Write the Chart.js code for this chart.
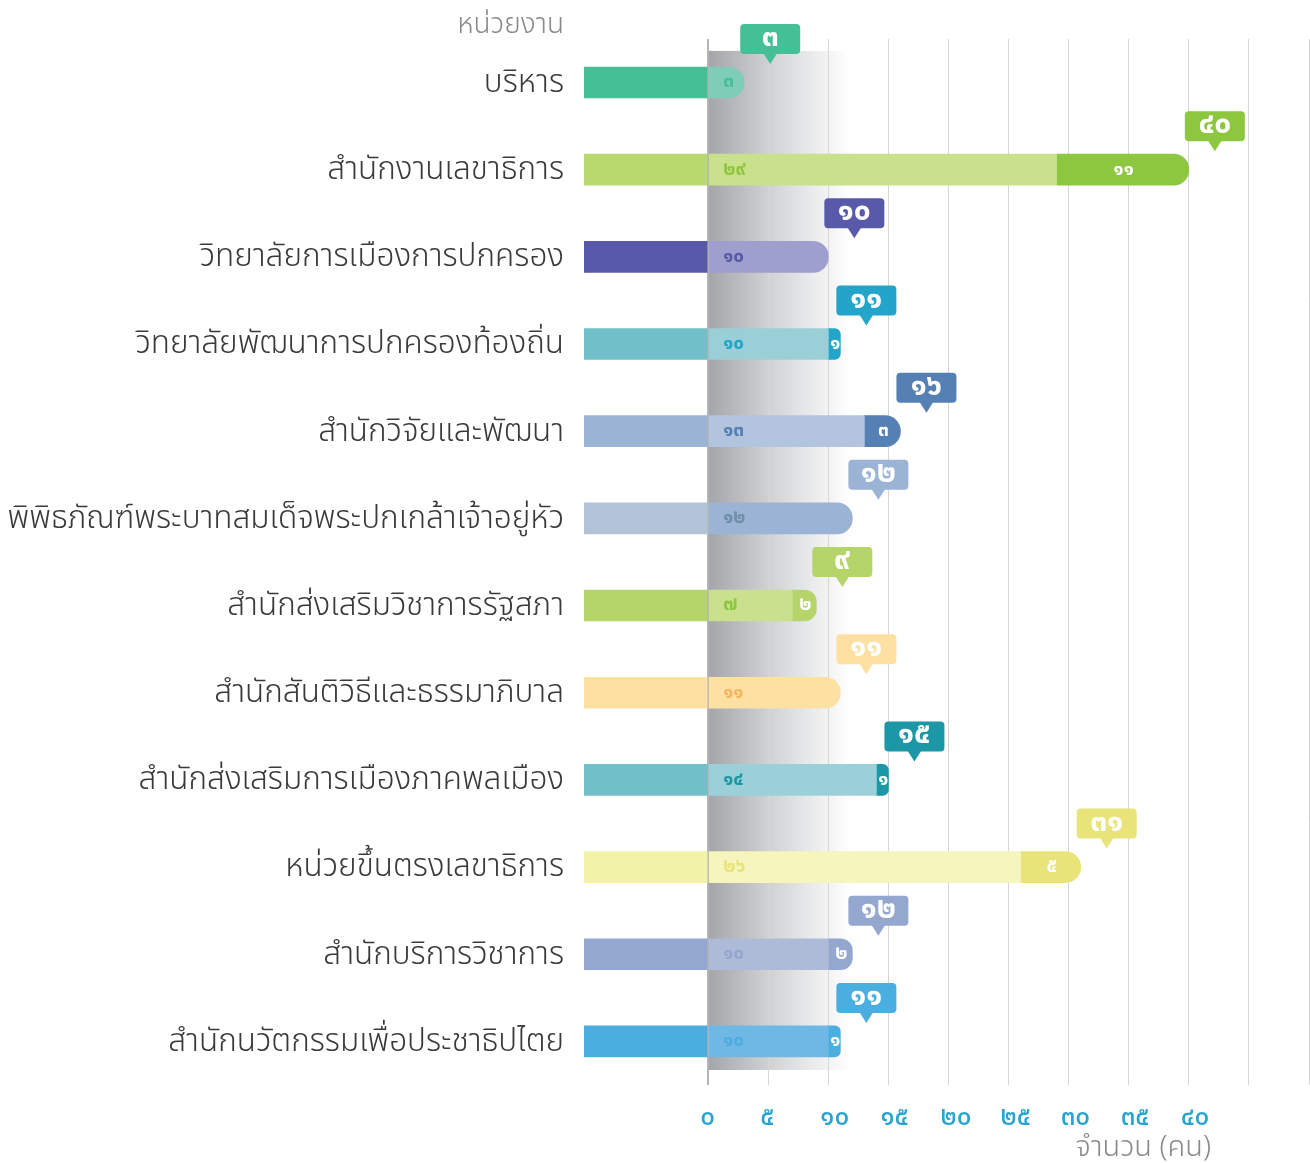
<!DOCTYPE html>
<html>
<head>
<meta charset="utf-8">
<script src="https://cdn.jsdelivr.net/npm/chart.js@4.4.1/dist/chart.umd.min.js"></script>
<style>
  body { margin: 0; background: #fff; }
  #wrap { position: relative; width: 1310px; height: 1163px; }
  .note { position: absolute; font-family: "Noto Sans Thai", "Noto Sans", sans-serif; font-weight: 300; color: #8a8a8a; white-space: nowrap; }
  #head { right: 746px; top: 3px; font-size: 28px; }
  #unit { right: 99px; top: 1125px; font-size: 29px; }
</style>
</head>
<body>
<div id="wrap">
  <canvas id="chart" width="1310" height="1163"></canvas>
  <div class="note" id="head">หน่วยงาน</div>
  <div class="note" id="unit">จำนวน (คน)</div>
</div>
<script>
// ---- data ----
const units = [
  'บริหาร',
  'สำนักงานเลขาธิการ',
  'วิทยาลัยการเมืองการปกครอง',
  'วิทยาลัยพัฒนาการปกครองท้องถิ่น',
  'สำนักวิจัยและพัฒนา',
  'พิพิธภัณฑ์พระบาทสมเด็จพระปกเกล้าเจ้าอยู่หัว',
  'สำนักส่งเสริมวิชาการรัฐสภา',
  'สำนักสันติวิธีและธรรมาภิบาล',
  'สำนักส่งเสริมการเมืองภาคพลเมือง',
  'หน่วยขึ้นตรงเลขาธิการ',
  'สำนักบริการวิชาการ',
  'สำนักนวัตกรรมเพื่อประชาธิปไตย'
];
const firstPart  = [3, 29, 10, 10, 13, 12, 7, 11, 14, 26, 10, 10];
const secondPart = [0, 11, 0, 1, 3, 0, 2, 0, 1, 5, 2, 1];
const tickMax = 40;   // last labelled tick
const axisMax = 50;

// ---- styles ----
const blockColors = ['#45bf96','#b8d96e','#5859a9','#70bfc9','#9bb3d4','#b3c3d7','#b5d56b','#ffe0a3','#70bfc9','#f3f3a7','#94a8cf','#4aaee0'];
const lightColors = ['#7fcdb8','#c9e08c','#9e9fcf','#9bcfd8','#b3c5de','#9bb3d4','#c9e08c','#ffe0a3','#9bd0d9','#f5f5bd','#adbbd9','#6fb7e4'];
const accentColors = ['#45bf96','#8dc63f','#5859a9','#23a5c9','#5480b4','#9bb3d4','#b5d56b','#ffe0a3','#1b97a6','#e8e47a','#94a8cf','#4aaee0'];
const innerText = ['#45bf96','#8dc63f','#5859a9','#23a5c9','#5480b4','#6d8fa8','#8dc63f','#f5b55f','#1b97a6','#e8e47a','#94a8cf','#4aaee0'];

const FONT = '"Noto Sans Thai", "Noto Sans", sans-serif';
const BLOCK = 124 / 12;   // coloured label block left of zero, in axis units

function thai(n) {
  return String(n).replace(/[0-9]/g, d => '๐๑๒๓๔๕๖๗๘๙'[d]);
}

function roundRect(ctx, x, y, w, h, r) {
  ctx.beginPath();
  ctx.moveTo(x + r, y);
  ctx.lineTo(x + w - r, y);
  ctx.quadraticCurveTo(x + w, y, x + w, y + r);
  ctx.lineTo(x + w, y + h - r);
  ctx.quadraticCurveTo(x + w, y + h, x + w - r, y + h);
  ctx.lineTo(x + r, y + h);
  ctx.quadraticCurveTo(x, y + h, x, y + h - r);
  ctx.lineTo(x, y + r);
  ctx.quadraticCurveTo(x, y, x + r, y);
  ctx.closePath();
}

const decor = {
  id: 'decor',
  beforeDraw(chart) {
    const { ctx, chartArea, scales: { x } } = chart;
    const x0 = x.getPixelForValue(0), x1 = x.getPixelForValue(12.5);
    const g = ctx.createLinearGradient(x0, 0, x1, 0);
    g.addColorStop(0, '#a4a5a9');
    g.addColorStop(0.4, '#d0d1d3');
    g.addColorStop(0.65, '#e6e7e8');
    g.addColorStop(0.85, '#f7f7f7');
    g.addColorStop(1, 'rgba(255,255,255,0)');
    ctx.save();
    ctx.fillStyle = g;
    ctx.fillRect(x0, chartArea.top + 12, x1 - x0, chartArea.bottom - chartArea.top - 27);
    ctx.restore();
  },
  afterDatasetsDraw(chart) {
    const { ctx, scales: { x } } = chart;
    const m1 = chart.getDatasetMeta(1), m2 = chart.getDatasetMeta(2);
    ctx.save();
    ctx.textBaseline = 'middle';
    units.forEach((u, i) => {
      const b1 = m1.data[i].getProps(['x', 'y', 'base', 'height'], true);
      // value inside first part
      ctx.font = `bold 19px ${FONT}`;
      ctx.textAlign = 'left';
      ctx.fillStyle = innerText[i];
      ctx.fillText(thai(firstPart[i]), b1.base + 14, b1.y + 1);
      // value inside second part
      if (secondPart[i] > 0) {
        const b2 = m2.data[i].getProps(['x', 'base'], true);
        ctx.textAlign = 'center';
        ctx.fillStyle = '#fff';
        ctx.fillText(thai(secondPart[i]), (b2.x + b2.base) / 2 + 1, b1.y + 1);
      }
      // bubble with total
      const total = firstPart[i] + secondPart[i];
      const cx = x.getPixelForValue(total) + 26;
      const top = b1.y - b1.height / 2;
      const bw = 60, bh = 30;
      const by = top - 13 - bh;
      ctx.fillStyle = accentColors[i];
      roundRect(ctx, cx - bw / 2, by, bw, bh, 4);
      ctx.fill();
      ctx.beginPath();
      ctx.moveTo(cx - 7, by + bh - 1);
      ctx.lineTo(cx + 7, by + bh - 1);
      ctx.lineTo(cx, top - 3);
      ctx.closePath();
      ctx.fill();
      ctx.font = `bold 30px ${FONT}`;
      ctx.textAlign = 'center';
      ctx.fillStyle = '#fff';
      ctx.fillText(thai(total), cx, by + bh / 2 + 1);
    });
    ctx.restore();
  }
};

const radius = 16;

new Chart(document.getElementById('chart'), {
  type: 'bar',
  data: {
    labels: units,
    datasets: [
      {
        label: 'block',
        data: units.map(() => -BLOCK),
        backgroundColor: blockColors,
        borderRadius: 0,
        borderSkipped: false
      },
      {
        label: 'part1',
        data: firstPart,
        backgroundColor: lightColors,
        borderRadius: radius
      },
      {
        label: 'part2',
        data: secondPart,
        backgroundColor: accentColors,
        borderRadius: radius
      }
    ]
  },
  options: {
    indexAxis: 'y',
    responsive: false,
    animation: false,
    barThickness: 31,
    layout: { padding: { top: 38, right: 1, left: 0, bottom: 0 } },
    plugins: {
      legend: { display: false },
      tooltip: { enabled: false }
    },
    scales: {
      x: {
        stacked: true,
        min: -BLOCK,
        max: axisMax,
        afterFit(scale) {
          scale.height = 78;
          scale.paddingLeft = 0;
          scale.paddingRight = 0;
        },
        border: { display: false },
        grid: {
          drawTicks: false,
          color: c => c.tick.value < 0 ? 'rgba(0,0,0,0)' : (c.tick.value === 0 ? '#b4b4b4' : '#d6d6d6'),
          lineWidth: c => c.tick.value === 0 ? 2 : 1
        },
        ticks: {
          stepSize: 5,
          padding: 19,
          autoSkip: false,
          maxRotation: 0,
          align: 'start',
          labelOffset: -8,
          color: '#27a4cf',
          font: { family: FONT, size: 26, weight: '500' },
          callback: v => (v < 0 || v > tickMax || v % 5 !== 0) ? '' : thai(v)
        }
      },
      y: {
        stacked: true,
        afterFit(scale) { scale.width = 584; },
        border: { display: false },
        grid: { display: false, drawTicks: false },
        ticks: {
          padding: 20,
          labelOffset: 3,
          color: '#3a3a3a',
          font: { family: FONT, size: 31.5, weight: '300' }
        }
      }
    }
  },
  plugins: [decor]
});
</script>
</body>
</html>
